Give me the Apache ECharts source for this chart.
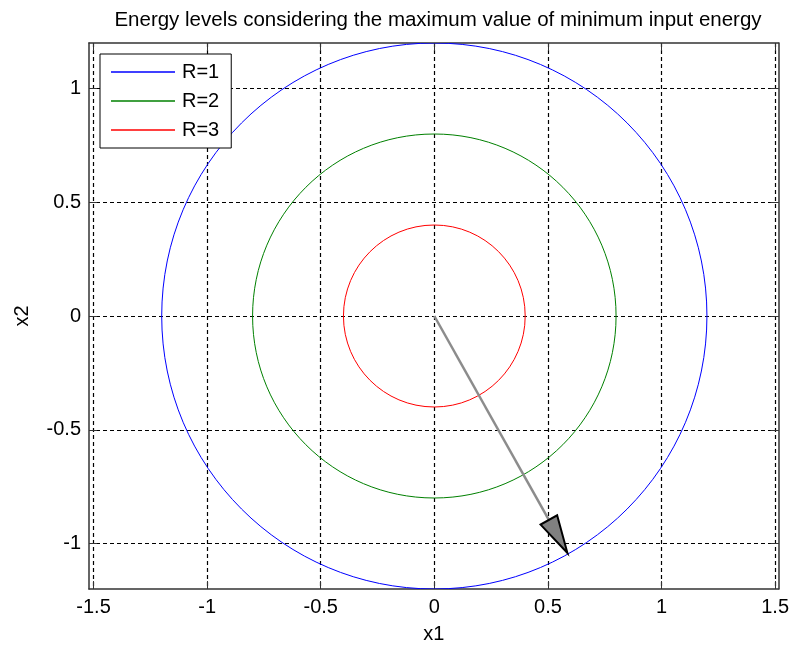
<!DOCTYPE html>
<html>
<head>
<meta charset="utf-8">
<script src="https://cdn.jsdelivr.net/npm/echarts@6/dist/echarts.min.js"></script>
<style>
  html, body { margin: 0; padding: 0; background: #fff; }
  #chart { width: 792px; height: 650px; }
</style>
</head>
<body>
<div id="chart"></div>
<script>
// tick positions
var xTicks = [-1.5, -1, -0.5, 0, 0.5, 1, 1.5];
var yTicks = [-1, -0.5, 0, 0.5, 1];
// energy level circles (radius in x1/x2 units)
var levelNames = ["R=1", "R=2", "R=3"];
var levelRadii = [1.2, 0.8, 0.4];
// arrow from origin to the R=1 circle
var arrowFrom = [0, 0];
var arrowTo = [0.586, -1.042];

var levelColors = ["#0000ff", "#008000", "#ff0000"];
var fontFam = "Liberation Sans, Arial, sans-serif";

var myChart = echarts.init(document.getElementById("chart"));

function circleItem(params, api) {
  var c = api.coord([api.value(0), api.value(1)]);
  var r = api.value(2);
  var rx = api.size([r, 0])[0];
  var ry = api.size([0, r])[1];
  return {
    type: "ellipse",
    shape: { cx: c[0], cy: c[1], rx: rx, ry: ry },
    style: { fill: "none", stroke: api.visual("color"), lineWidth: 1 }
  };
}

function arrowItem(params, api) {
  var p0 = api.coord([api.value(0), api.value(1)]);
  var p1 = api.coord([api.value(2), api.value(3)]);
  var dx = p1[0] - p0[0], dy = p1[1] - p0[1];
  var len = Math.sqrt(dx * dx + dy * dy);
  var ux = dx / len, uy = dy / len;
  var headLen = 38, headW = 9.5;
  var bx = p1[0] - ux * headLen, by = p1[1] - uy * headLen;
  return {
    type: "group",
    children: [
      {
        type: "line",
        shape: { x1: p0[0], y1: p0[1], x2: bx, y2: by },
        style: { stroke: "#8c8c8c", lineWidth: 2.5 }
      },
      {
        type: "polygon",
        shape: {
          points: [
            [p1[0], p1[1]],
            [bx - uy * headW, by + ux * headW],
            [bx + uy * headW, by - ux * headW]
          ]
        },
        style: { fill: "#808080", stroke: "#000", lineWidth: 2, lineJoin: "miter" }
      }
    ]
  };
}

var series = [];
for (var i = 0; i < levelNames.length; i++) {
  series.push({
    name: levelNames[i],
    type: "custom",
    coordinateSystem: "cartesian2d",
    xAxisIndex: 0,
    yAxisIndex: 0,
    clip: true,
    itemStyle: { color: levelColors[i] },
    renderItem: circleItem,
    data: [[0, 0, levelRadii[i]]],
    silent: true
  });
}
series.push({
  name: "arrow",
  type: "custom",
  coordinateSystem: "cartesian2d",
  renderItem: arrowItem,
  data: [[arrowFrom[0], arrowFrom[1], arrowTo[0], arrowTo[1]]],
  silent: true,
  z: 3
});

var axisLine = { show: true, onZero: false, lineStyle: { color: "#333", width: 1.5 } };
var tickStyle = { color: "#333", width: 1 };
var gridDash = { color: "#000", type: [4, 3], width: 1.2 };

myChart.setOption({
  animation: false,
  backgroundColor: "#fff",
  title: {
    text: "Energy levels considering the maximum value of minimum input energy",
    left: 433,
    textAlign: "center",
    top: 5,
    textStyle: { fontFamily: fontFam, fontSize: 20.5, fontWeight: "normal", color: "#000" }
  },
  legend: {
    data: levelNames,
    orient: "vertical",
    left: 100,
    top: 54,
    backgroundColor: "#fff",
    borderColor: "#000",
    borderWidth: 1,
    padding: [8, 12, 8, 11],
    icon: "rect",
    itemWidth: 64,
    itemHeight: 1.5,
    itemGap: 9,
    textStyle: { fontFamily: fontFam, fontSize: 20, color: "#000", lineHeight: 20, padding: [0, 0, 0, 2] }
  },
  grid: { left: 89, right: 13, top: 43, bottom: 61 },
  xAxis: [
    {
      type: "value",
      min: -1.52,
      max: 1.515,
      name: "x1",
      nameLocation: "middle",
      nameGap: 35,
      nameTextStyle: { fontFamily: fontFam, fontSize: 20, color: "#000" },
      axisLine: axisLine,
      axisTick: { show: true, inside: true, length: 8, customValues: xTicks, lineStyle: tickStyle },
      axisLabel: { customValues: xTicks, margin: 8, fontFamily: fontFam, fontSize: 20, color: "#000" },
      splitLine: { show: true, lineStyle: gridDash }
    },
    {
      type: "value",
      position: "top",
      min: -1.52,
      max: 1.515,
      axisLine: axisLine,
      axisTick: { show: true, inside: true, length: 8, customValues: xTicks, lineStyle: tickStyle },
      axisLabel: { show: false },
      splitLine: { show: false }
    }
  ],
  yAxis: [
    {
      type: "value",
      min: -1.2,
      max: 1.2,
      name: "x2",
      nameLocation: "middle",
      nameGap: 57,
      nameRotate: 90,
      nameTextStyle: { fontFamily: fontFam, fontSize: 20, color: "#000" },
      axisLine: axisLine,
      axisTick: { show: true, inside: true, length: 8, customValues: yTicks, lineStyle: tickStyle },
      axisLabel: { customValues: yTicks, margin: 8, fontFamily: fontFam, fontSize: 20, color: "#000" },
      splitLine: { show: true, lineStyle: gridDash }
    },
    {
      type: "value",
      position: "right",
      min: -1.2,
      max: 1.2,
      axisLine: axisLine,
      axisTick: { show: true, inside: true, length: 8, customValues: yTicks, lineStyle: tickStyle },
      axisLabel: { show: false },
      splitLine: { show: false }
    }
  ],
  series: series
});
</script>
</body>
</html>
